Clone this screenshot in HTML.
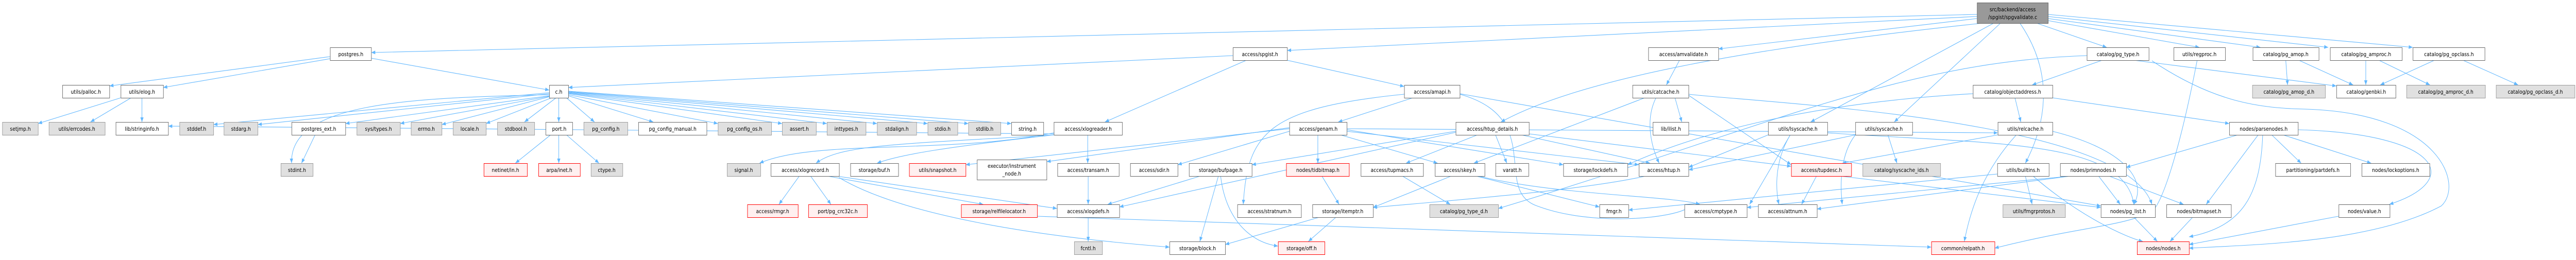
<!DOCTYPE html>
<html><head><meta charset="utf-8"><style>
html,body{margin:0;padding:0;background:#fff;width:100%;height:100%;overflow:hidden;}
svg{display:block;width:100vw;height:100vh;}
text{font-family:"DejaVu Sans","Liberation Sans",sans-serif;font-size:10.5px;fill:#000;text-anchor:middle;}
.e path{fill:none;stroke:#63b8ff;stroke-width:1.1;}
.w{fill:#fff;stroke:#666;}
.g{fill:#e0e0e0;stroke:#999;}
.r{fill:#fff0f0;stroke:#f00;}
</style></head><body>
<svg viewBox="0 0 5698 505" preserveAspectRatio="none" xmlns="http://www.w3.org/2000/svg">
<defs><marker id="a" viewBox="0 0 10 10" refX="10" refY="5" markerWidth="9" markerHeight="9" orient="auto" markerUnits="userSpaceOnUse"><path d="M0,1 L10,5 L0,9 z" fill="#63b8ff"/></marker></defs>
<g class="e">
<path marker-end="url(#a)" d="M4373,28 L821,102"/>
<path marker-end="url(#a)" d="M4373,32 L2847,98"/>
<path marker-end="url(#a)" d="M4373,36 L3801,95"/>
<path marker-end="url(#a)" d="M4505,45 L4660,92"/>
<path marker-end="url(#a)" d="M4530,40 L4865,92"/>
<path marker-end="url(#a)" d="M4530,36 L5000,92"/>
<path marker-end="url(#a)" d="M4530,32 L5150,92"/>
<path marker-end="url(#a)" d="M4530,28 L5337,92"/>
<path marker-end="url(#a)" d="M4385,45 C3900,90 3500,150 3320,237"/>
<path marker-end="url(#a)" d="M4410,45 L4005,237"/>
<path marker-end="url(#a)" d="M4425,45 L4190,237"/>
<path marker-end="url(#a)" d="M4468,45 C4550,150 4520,250 4480,317"/>
<path marker-end="url(#a)" d="M730,110 L242,167"/>
<path marker-end="url(#a)" d="M730,114 L361,170"/>
<path marker-end="url(#a)" d="M821,113 L1215,175"/>
<path marker-end="url(#a)" d="M267,190 L84,240"/>
<path marker-end="url(#a)" d="M290,190 L200,237"/>
<path marker-end="url(#a)" d="M314,190 L314,237"/>
<path marker-end="url(#a)" d="M1215,180 L472,242"/>
<path marker-end="url(#a)" d="M1215,182 L570,242"/>
<path marker-end="url(#a)" d="M1215,184 C900,190 640,200 645,317"/>
<path marker-end="url(#a)" d="M1215,186 L764,240"/>
<path marker-end="url(#a)" d="M1215,187 L885,240"/>
<path marker-end="url(#a)" d="M1215,188 L977,242"/>
<path marker-end="url(#a)" d="M1220,190 L1075,240"/>
<path marker-end="url(#a)" d="M1230,190 L1160,237"/>
<path marker-end="url(#a)" d="M1236,190 L1236,237"/>
<path marker-end="url(#a)" d="M1253,190 L1315,237"/>
<path marker-end="url(#a)" d="M1257,186 L1445,237"/>
<path marker-end="url(#a)" d="M1257,184 L1588,240"/>
<path marker-end="url(#a)" d="M1257,182 L1730,240"/>
<path marker-end="url(#a)" d="M1257,181 L1829,240"/>
<path marker-end="url(#a)" d="M1257,180 L1940,240"/>
<path marker-end="url(#a)" d="M1257,179 L2052,240"/>
<path marker-end="url(#a)" d="M1257,178 L2142,240"/>
<path marker-end="url(#a)" d="M1257,177 L2237,240"/>
<path marker-end="url(#a)" d="M697,262 L667,317"/>
<path marker-end="url(#a)" d="M1218,262 L1140,317"/>
<path marker-end="url(#a)" d="M1236,262 L1236,317"/>
<path marker-end="url(#a)" d="M1253,262 L1325,317"/>
<path marker-end="url(#a)" d="M2757,117 L2444,237"/>
<path marker-end="url(#a)" d="M2847,117 L3106,168"/>
<path marker-end="url(#a)" d="M2727,108 L1257,170"/>
<path marker-end="url(#a)" d="M2406,262 L2406,317"/>
<path marker-end="url(#a)" d="M2331,262 C2000,280 1860,280 1805,317"/>
<path marker-end="url(#a)" d="M2331,258 C2100,300 1800,270 1680,317"/>
<path marker-end="url(#a)" d="M2331,260 L372,245"/>
<path marker-end="url(#a)" d="M2331,262 C2100,285 1990,300 1940,317"/>
<path marker-end="url(#a)" d="M1768,342 L1723,397"/>
<path marker-end="url(#a)" d="M1793,342 L1838,397"/>
<path marker-end="url(#a)" d="M1830,342 L2175,397"/>
<path marker-end="url(#a)" d="M1850,342 L2338,405"/>
<path marker-end="url(#a)" d="M1856,345 C2000,420 2300,460 2587,480"/>
<path marker-end="url(#a)" d="M2407,342 L2407,397"/>
<path marker-end="url(#a)" d="M2407,422 L2407,469"/>
<path marker-end="url(#a)" d="M2655,342 L2450,397"/>
<path marker-end="url(#a)" d="M2695,342 L2654,469"/>
<path marker-end="url(#a)" d="M2700,342 C2710,420 2760,470 2827,478"/>
<path marker-end="url(#a)" d="M2294,420 C3000,440 3900,470 4272,480"/>
<path marker-end="url(#a)" d="M3125,190 L2960,237"/>
<path marker-end="url(#a)" d="M3106,183 C2800,210 2760,260 2750,397"/>
<path marker-end="url(#a)" d="M3229,183 C3420,230 3300,370 3400,400 C3520,440 3700,425 3735,403"/>
<path marker-end="url(#a)" d="M3229,182 L4647,400"/>
<path marker-end="url(#a)" d="M2915,262 L2915,317"/>
<path marker-end="url(#a)" d="M2965,262 L3180,317"/>
<path marker-end="url(#a)" d="M2979,252 L3458,320"/>
<path marker-end="url(#a)" d="M2979,255 L3625,320"/>
<path marker-end="url(#a)" d="M2852,250 L2136,320"/>
<path marker-end="url(#a)" d="M2852,255 L2605,320"/>
<path marker-end="url(#a)" d="M2852,248 L2315,314"/>
<path marker-end="url(#a)" d="M2979,250 L4419,258"/>
<path marker-end="url(#a)" d="M2924,342 L2962,397"/>
<path marker-end="url(#a)" d="M2955,422 L2894,469"/>
<path marker-end="url(#a)" d="M2918,422 L2710,475"/>
<path marker-end="url(#a)" d="M3268,262 L3110,317"/>
<path marker-end="url(#a)" d="M3308,262 L3333,317"/>
<path marker-end="url(#a)" d="M3365,262 L3650,317"/>
<path marker-end="url(#a)" d="M3382,260 L3962,323"/>
<path marker-end="url(#a)" d="M3220,255 L2769,320"/>
<path marker-end="url(#a)" d="M3220,257 L2476,402"/>
<path marker-end="url(#a)" d="M3102,342 L3208,397"/>
<path marker-end="url(#a)" d="M3210,342 L3037,403"/>
<path marker-end="url(#a)" d="M3265,342 L3538,402"/>
<path marker-end="url(#a)" d="M3270,342 C3450,380 3700,380 3760,397"/>
<path marker-end="url(#a)" d="M3640,342 C3500,370 3200,390 3037,403"/>
<path marker-end="url(#a)" d="M3715,117 L3686,165"/>
<path marker-end="url(#a)" d="M3705,190 L3720,237"/>
<path marker-end="url(#a)" d="M3663,190 C3640,230 3650,280 3670,317"/>
<path marker-end="url(#a)" d="M3638,190 L3260,317"/>
<path marker-end="url(#a)" d="M3735,183 C3900,200 4700,230 4760,397"/>
<path marker-end="url(#a)" d="M3735,185 L3962,320"/>
<path marker-end="url(#a)" d="M4650,117 L4495,165"/>
<path marker-end="url(#a)" d="M4616,108 C4200,120 3900,250 3314,405"/>
<path marker-end="url(#a)" d="M4720,117 L5168,167"/>
<path marker-end="url(#a)" d="M4457,190 L4470,237"/>
<path marker-end="url(#a)" d="M4540,190 L4931,240"/>
<path marker-end="url(#a)" d="M4364,182 C4000,200 3750,260 3600,320"/>
<path marker-end="url(#a)" d="M3960,262 L3870,397"/>
<path marker-end="url(#a)" d="M3960,262 C3920,320 3930,380 3935,397"/>
<path marker-end="url(#a)" d="M4042,258 C4400,280 4700,270 4720,397"/>
<path marker-end="url(#a)" d="M3911,262 L3735,325"/>
<path marker-end="url(#a)" d="M4176,262 L4196,317"/>
<path marker-end="url(#a)" d="M4104,262 C4070,300 4070,360 4075,397"/>
<path marker-end="url(#a)" d="M4104,262 L3735,330"/>
<path marker-end="url(#a)" d="M4460,262 C4390,330 4360,400 4345,469"/>
<path marker-end="url(#a)" d="M4419,262 L4075,317"/>
<path marker-end="url(#a)" d="M4540,255 C4700,290 4750,350 4720,397"/>
<path marker-end="url(#a)" d="M4018,342 L3985,397"/>
<path marker-end="url(#a)" d="M4070,342 L4647,403"/>
<path marker-end="url(#a)" d="M4480,342 L4495,397"/>
<path marker-end="url(#a)" d="M4497,342 C4600,420 4700,460 4740,469"/>
<path marker-end="url(#a)" d="M4418,338 L3602,408"/>
<path marker-end="url(#a)" d="M4642,342 L4690,397"/>
<path marker-end="url(#a)" d="M4665,342 L4830,397"/>
<path marker-end="url(#a)" d="M4580,342 L4019,406"/>
<path marker-end="url(#a)" d="M4580,342 L3864,403"/>
<path marker-end="url(#a)" d="M4950,262 L4703,325"/>
<path marker-end="url(#a)" d="M4995,262 L4880,397"/>
<path marker-end="url(#a)" d="M5025,262 L5090,317"/>
<path marker-end="url(#a)" d="M5050,262 L5245,317"/>
<path marker-end="url(#a)" d="M5083,252 C5400,260 5450,350 5285,397"/>
<path marker-end="url(#a)" d="M5005,262 C5000,380 4960,440 4842,460"/>
<path marker-end="url(#a)" d="M4720,422 L4772,469"/>
<path marker-end="url(#a)" d="M4850,422 L4800,469"/>
<path marker-end="url(#a)" d="M5173,420 L4842,475"/>
<path marker-end="url(#a)" d="M4760,118 C4900,200 5000,210 5100,212 C5400,220 5450,360 5400,400 C5250,470 5000,475 4842,482"/>
<path marker-end="url(#a)" d="M4860,117 C4820,300 4780,400 4760,410 C4700,440 4600,440 4412,482"/>
<path marker-end="url(#a)" d="M5056,117 L5060,165"/>
<path marker-end="url(#a)" d="M5085,117 L5205,165"/>
<path marker-end="url(#a)" d="M5233,117 L5233,165"/>
<path marker-end="url(#a)" d="M5262,117 L5375,165"/>
<path marker-end="url(#a)" d="M5385,117 L5265,165"/>
<path marker-end="url(#a)" d="M5448,117 L5570,165"/>
</g>
<g>
<rect x="4373.5" y="5.5" width="157" height="40" style="fill:#999;stroke:#666"/>
<text x="4452" y="22">src/backend/access</text><text x="4452" y="37">/spgist/spgvalidate.c</text>
</g>
<g>
<rect class="w" x="730.5" y="92.5" width="91" height="25"/><text x="776" y="109">postgres.h</text>
<rect class="w" x="2727.5" y="92.5" width="120" height="25"/><text x="2787" y="109">access/spgist.h</text>
<rect class="w" x="3646.5" y="92.5" width="155" height="25"/><text x="3724" y="109">access/amvalidate.h</text>
<rect class="w" x="4616.5" y="92.5" width="137" height="25"/><text x="4685" y="109">catalog/pg_type.h</text>
<rect class="w" x="4808.5" y="92.5" width="114" height="25"/><text x="4865" y="109">utils/regproc.h</text>
<rect class="w" x="4983.5" y="92.5" width="146" height="25"/><text x="5056" y="109">catalog/pg_amop.h</text>
<rect class="w" x="5154.5" y="92.5" width="159" height="25"/><text x="5234" y="109">catalog/pg_amproc.h</text>
<rect class="w" x="5337.5" y="92.5" width="159" height="25"/><text x="5417" y="109">catalog/pg_opclass.h</text>
<rect class="w" x="138.5" y="165.5" width="104" height="25"/><text x="190" y="182">utils/palloc.h</text>
<rect class="w" x="267.5" y="165.5" width="94" height="25"/><text x="314" y="182">utils/elog.h</text>
<rect class="w" x="1215.5" y="165.5" width="42" height="25"/><text x="1236" y="182">c.h</text>
<rect class="w" x="3106.5" y="165.5" width="123" height="25"/><text x="3168" y="182">access/amapi.h</text>
<rect class="w" x="3611.5" y="165.5" width="124" height="25"/><text x="3673" y="182">utils/catcache.h</text>
<rect class="w" x="4364.5" y="165.5" width="176" height="25"/><text x="4452" y="182">catalog/objectaddress.h</text>
<rect class="g" x="4982.5" y="165.5" width="161" height="25"/><text x="5063" y="182">catalog/pg_amop_d.h</text>
<rect class="w" x="5168.5" y="165.5" width="131" height="25"/><text x="5234" y="182">catalog/genbki.h</text>
<rect class="g" x="5323.5" y="165.5" width="174" height="25"/><text x="5410" y="182">catalog/pg_amproc_d.h</text>
<rect class="g" x="5521.5" y="165.5" width="174" height="25"/><text x="5608" y="182">catalog/pg_opclass_d.h</text>
<rect class="g" x="5.5" y="237.5" width="79" height="25"/><text x="45" y="254">setjmp.h</text>
<rect class="g" x="108.5" y="237.5" width="124" height="25"/><text x="170" y="254">utils/errcodes.h</text>
<rect class="w" x="256.5" y="237.5" width="116" height="25"/><text x="314" y="254">lib/stringinfo.h</text>
<rect class="g" x="397.5" y="237.5" width="75" height="25"/><text x="435" y="254">stddef.h</text>
<rect class="g" x="495.5" y="237.5" width="75" height="25"/><text x="533" y="254">stdarg.h</text>
<rect class="w" x="645.5" y="237.5" width="119" height="25"/><text x="705" y="254">postgres_ext.h</text>
<rect class="g" x="789.5" y="237.5" width="96" height="25"/><text x="837" y="254">sys/types.h</text>
<rect class="g" x="909.5" y="237.5" width="68" height="25"/><text x="943" y="254">errno.h</text>
<rect class="g" x="1002.5" y="237.5" width="73" height="25"/><text x="1039" y="254">locale.h</text>
<rect class="g" x="1100.5" y="237.5" width="82" height="25"/><text x="1141" y="254">stdbool.h</text>
<rect class="w" x="1207.5" y="237.5" width="59" height="25"/><text x="1237" y="254">port.h</text>
<rect class="g" x="1291.5" y="237.5" width="97" height="25"/><text x="1340" y="254">pg_config.h</text>
<rect class="w" x="1412.5" y="237.5" width="151" height="25"/><text x="1488" y="254">pg_config_manual.h</text>
<rect class="g" x="1588.5" y="237.5" width="118" height="25"/><text x="1647" y="254">pg_config_os.h</text>
<rect class="g" x="1730.5" y="237.5" width="75" height="25"/><text x="1768" y="254">assert.h</text>
<rect class="g" x="1829.5" y="237.5" width="86" height="25"/><text x="1872" y="254">inttypes.h</text>
<rect class="g" x="1940.5" y="237.5" width="87" height="25"/><text x="1984" y="254">stdalign.h</text>
<rect class="g" x="2052.5" y="237.5" width="66" height="25"/><text x="2085" y="254">stdio.h</text>
<rect class="g" x="2142.5" y="237.5" width="71" height="25"/><text x="2178" y="254">stdlib.h</text>
<rect class="w" x="2237.5" y="237.5" width="71" height="25"/><text x="2273" y="254">string.h</text>
<rect class="w" x="2331.5" y="237.5" width="151" height="25"/><text x="2407" y="254">access/xlogreader.h</text>
<rect class="w" x="2852.5" y="237.5" width="127" height="25"/><text x="2916" y="254">access/genam.h</text>
<rect class="w" x="3220.5" y="237.5" width="162" height="25"/><text x="3301" y="254">access/htup_details.h</text>
<rect class="w" x="3656.5" y="237.5" width="79" height="25"/><text x="3696" y="254">lib/ilist.h</text>
<rect class="w" x="3911.5" y="237.5" width="131" height="25"/><text x="3977" y="254">utils/lsyscache.h</text>
<rect class="w" x="4104.5" y="237.5" width="126" height="25"/><text x="4167" y="254">utils/syscache.h</text>
<rect class="w" x="4419.5" y="237.5" width="121" height="25"/><text x="4480" y="254">utils/relcache.h</text>
<rect class="w" x="4931.5" y="237.5" width="152" height="25"/><text x="5007" y="254">nodes/parsenodes.h</text>
<rect class="g" x="621.5" y="317.5" width="71" height="25"/><text x="657" y="334">stdint.h</text>
<rect class="r" x="1070.5" y="317.5" width="96" height="25"/><text x="1118" y="334">netinet/in.h</text>
<rect class="r" x="1191.5" y="317.5" width="92" height="25"/><text x="1237" y="334">arpa/inet.h</text>
<rect class="g" x="1307.5" y="317.5" width="70" height="25"/><text x="1342" y="334">ctype.h</text>
<rect class="g" x="1608.5" y="317.5" width="74" height="25"/><text x="1645" y="334">signal.h</text>
<rect class="w" x="1705.5" y="317.5" width="151" height="25"/><text x="1781" y="334">access/xlogrecord.h</text>
<rect class="w" x="1881.5" y="317.5" width="106" height="25"/><text x="1934" y="334">storage/buf.h</text>
<rect class="r" x="2011.5" y="317.5" width="125" height="25"/><text x="2074" y="334">utils/snapshot.h</text>
<rect class="w" x="2161.5" y="310.5" width="154" height="39"/><text x="2238" y="326">executor/instrument</text><text x="2238" y="341">_node.h</text>
<rect class="w" x="2339.5" y="317.5" width="136" height="25"/><text x="2407" y="334">access/transam.h</text>
<rect class="w" x="2500.5" y="317.5" width="105" height="25"/><text x="2553" y="334">access/sdir.h</text>
<rect class="w" x="2630.5" y="317.5" width="139" height="25"/><text x="2700" y="334">storage/bufpage.h</text>
<rect class="r" x="2845.5" y="317.5" width="139" height="25"/><text x="2915" y="334">nodes/tidbitmap.h</text>
<rect class="w" x="3010.5" y="317.5" width="138" height="25"/><text x="3079" y="334">access/tupmacs.h</text>
<rect class="w" x="3174.5" y="317.5" width="110" height="25"/><text x="3229" y="334">access/skey.h</text>
<rect class="w" x="3308.5" y="317.5" width="73" height="25"/><text x="3345" y="334">varatt.h</text>
<rect class="w" x="3458.5" y="317.5" width="142" height="25"/><text x="3529" y="334">storage/lockdefs.h</text>
<rect class="w" x="3625.5" y="317.5" width="110" height="25"/><text x="3680" y="334">access/htup.h</text>
<rect class="r" x="3962.5" y="317.5" width="133" height="25"/><text x="4029" y="334">access/tupdesc.h</text>
<rect class="g" x="4120.5" y="317.5" width="172" height="25"/><text x="4206" y="334">catalog/syscache_ids.h</text>
<rect class="w" x="4418.5" y="317.5" width="114" height="25"/><text x="4475" y="334">utils/builtins.h</text>
<rect class="w" x="4557.5" y="317.5" width="146" height="25"/><text x="4630" y="334">nodes/primnodes.h</text>
<rect class="w" x="5033.5" y="317.5" width="166" height="25"/><text x="5116" y="334">partitioning/partdefs.h</text>
<rect class="w" x="5224.5" y="317.5" width="150" height="25"/><text x="5299" y="334">nodes/lockoptions.h</text>
<rect class="r" x="1653.5" y="397.5" width="112" height="25"/><text x="1709" y="414">access/rmgr.h</text>
<rect class="r" x="1788.5" y="397.5" width="130" height="25"/><text x="1853" y="414">port/pg_crc32c.h</text>
<rect class="r" x="2126.5" y="397.5" width="168" height="25"/><text x="2210" y="414">storage/relfilelocator.h</text>
<rect class="w" x="2338.5" y="397.5" width="138" height="25"/><text x="2407" y="414">access/xlogdefs.h</text>
<rect class="w" x="2737.5" y="397.5" width="141" height="25"/><text x="2808" y="414">access/stratnum.h</text>
<rect class="w" x="2903.5" y="397.5" width="134" height="25"/><text x="2970" y="414">storage/itemptr.h</text>
<rect class="g" x="3162.5" y="397.5" width="152" height="25"/><text x="3238" y="414">catalog/pg_type_d.h</text>
<rect class="w" x="3538.5" y="397.5" width="64" height="25"/><text x="3570" y="414">fmgr.h</text>
<rect class="w" x="3726.5" y="397.5" width="138" height="25"/><text x="3795" y="414">access/cmptype.h</text>
<rect class="w" x="3889.5" y="397.5" width="130" height="25"/><text x="3954" y="414">access/attnum.h</text>
<rect class="g" x="4430.5" y="397.5" width="138" height="25"/><text x="4499" y="414">utils/fmgrprotos.h</text>
<rect class="w" x="4647.5" y="397.5" width="120" height="25"/><text x="4707" y="414">nodes/pg_list.h</text>
<rect class="w" x="4792.5" y="397.5" width="143" height="25"/><text x="4864" y="414">nodes/bitmapset.h</text>
<rect class="w" x="5173.5" y="397.5" width="113" height="25"/><text x="5230" y="414">nodes/value.h</text>
<rect class="g" x="2376.5" y="469.5" width="62" height="25"/><text x="2407" y="486">fcntl.h</text>
<rect class="w" x="2587.5" y="469.5" width="123" height="25"/><text x="2649" y="486">storage/block.h</text>
<rect class="r" x="2827.5" y="469.5" width="103" height="25"/><text x="2879" y="486">storage/off.h</text>
<rect class="r" x="4272.5" y="469.5" width="140" height="25"/><text x="4342" y="486">common/relpath.h</text>
<rect class="r" x="4727.5" y="469.5" width="115" height="25"/><text x="4785" y="486">nodes/nodes.h</text>
</g>
</svg>
</body></html>
